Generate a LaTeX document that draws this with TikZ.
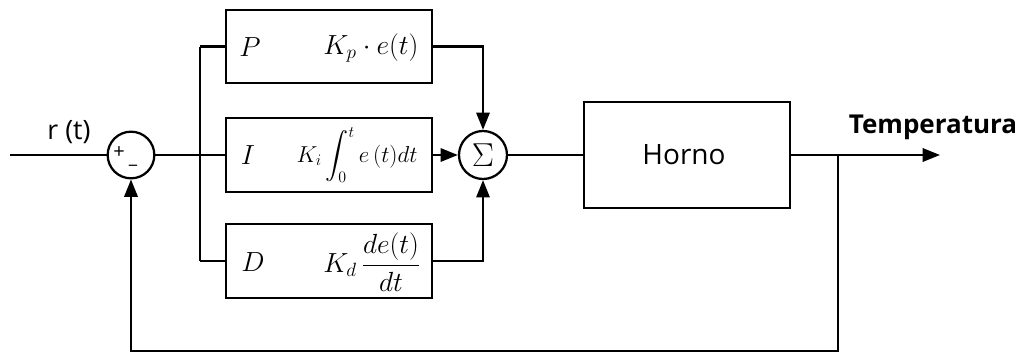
\documentclass[tikz,border=0pt]{standalone}
\usepackage{amsmath}
\usepackage{fontspec}
\setsansfont{Open Sans}
\usetikzlibrary{arrows.meta}

\tikzset{
  px/.style={x=0.75pt,y=-0.75pt},
  wire/.style={line width=1.7pt,line join=miter},
  sig/.style={wire,-{Triangle[length=13pt,width=10pt]}},
  blk/.style={draw,line width=1.7pt,rectangle,inner sep=0pt,
    minimum width=154.5pt,minimum height=55pt},
  junc/.style={draw,line width=1.7pt,circle,inner sep=0pt,minimum size=35pt},
  mlabel/.style={inner sep=0pt,font=\fontsize{20}{22}\selectfont},
  slabel/.style={inner sep=0pt,font=\sffamily\fontsize{21}{24}\selectfont},
}

\begin{document}
\begin{tikzpicture}[px]
\useasboundingbox (0,0) rectangle (1027,354);

% comparator and branch point
\coordinate (in) at (10,155);
\node[junc] (cmp) at (131,155) {};
\node[inner sep=0pt,font=\sffamily\fontsize{15}{15}\selectfont] at (119,153) {+};
\node[inner sep=0pt,font=\sffamily\fontsize{14}{14}\selectfont] at (133,165) {\_};
\coordinate (split) at (200,155);

% P, I, D blocks
\node[blk] (P) at (329,46.5) {};
\node[blk] (I) at (329,155) {};
\node[blk] (D) at (329,261) {};

\node[mlabel] at (250,47) {$P$};
\node[mlabel] at (371,48) {$K_p\cdot e(t)$};
\node[mlabel] at (248,155) {$I$};
\node[mlabel,font=\fontsize{18}{20}\selectfont] at (357,155) {$K_i\displaystyle\int_0^t e\,(t)dt$};
\node[mlabel] at (253,262) {$D$};
\node[mlabel] at (372,262) {$K_d\,\dfrac{de(t)}{dt}$};

% summing junction and plant
\node[junc,minimum size=36pt] (sum) at (483,155) {};
\node[inner sep=0pt,font=\fontsize{24}{24}\selectfont] at (483,155) {$\Sigma$};
\node[blk,minimum height=80pt] (plant) at (687,155) {};
\node[slabel] at (684,155) {Horno};

\coordinate (outend) at (940,155);
\coordinate (tap) at (838,155);
\coordinate (fb) at (838,351);

% labels on signals
\node[slabel,font=\sffamily\fontsize{20}{22}\selectfont] at (69,132) {r (t)};
\node[slabel,font=\sffamily\bfseries\fontsize{19.5}{22}\selectfont] at (933,127) {Temperatura};

% wiring
\draw[wire] (in) -- (cmp.west);
\draw[wire] (cmp.east) -- (split);
\draw[wire] (split |- P.west) -- (split |- D.west);
\draw[wire] (split |- P.west) -- (P.west);
\draw[wire] (split) -- (I.west);
\draw[wire] (split |- D.west) -- (D.west);

\draw[sig] (P.east) -| (sum.north);
\draw[sig] (I.east) -- (sum.west);
\draw[sig] (D.east) -| (sum.south);

\draw[wire] (sum.east) -- (plant.west);
\draw[sig] (plant.east) -- (outend);
\draw[sig] (tap) -- (fb) -| (cmp.south);
\end{tikzpicture}
\end{document}
